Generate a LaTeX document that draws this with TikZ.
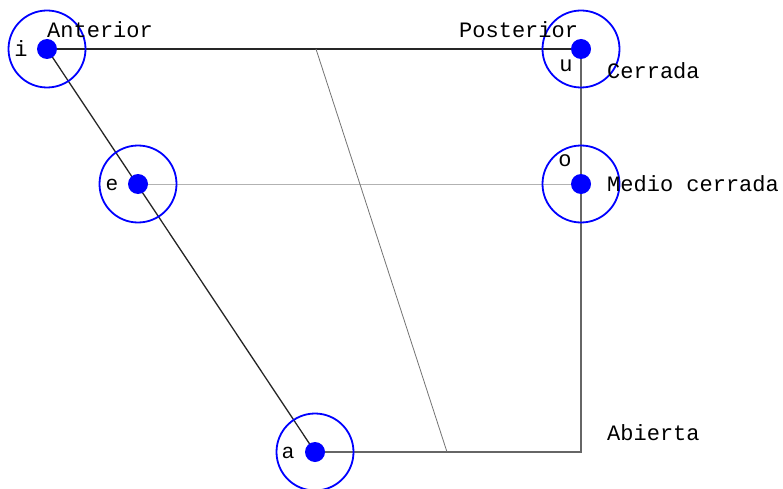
\documentclass[tikz,border=0pt]{standalone}
\usepackage{fontspec}
\setmonofont{Liberation Mono}
\setsansfont{Liberation Sans}
\begin{document}
\begin{tikzpicture}[x=1pt,y=-1pt,
  vowel/.style={circle,fill=blue,inner sep=0pt,minimum size=20pt},
  ring/.style={circle,draw=blue,line width=1.8pt,inner sep=0pt,minimum size=77pt},
  lab/.style={font=\fontsize{22}{24}\selectfont\ttfamily,inner sep=0pt},
  slab/.style={font=\fontsize{21}{23}\selectfont\sffamily,inner sep=0pt},
  edge/.style={line width=1.3pt},
]
\useasboundingbox (0,0) rectangle (783,489);
% vowel positions
\coordinate (pi) at (47,49);
\coordinate (pu) at (581,49);
\coordinate (pe) at (138,184);
\coordinate (po) at (581,184);
\coordinate (pa) at (315,452);
\coordinate (corner) at (581,452);
\coordinate (midtop) at (316,49);
\coordinate (midbot) at (447,452);
% trapezoid and mid lines
\draw[edge,black!85] (pi) -- (pu);
\draw[edge,black!85] (pi) -- (pa);
\draw[edge,black!60] (pu) -- (corner) -- (pa);
\draw[line width=1pt,black!30] (pe) -- (po);
\draw[line width=0.8pt,black!55] (midtop) -- (midbot);
% vowels
\foreach \v in {i,u,e,o,a}{
  \node[ring] (r\v) at (p\v) {};
  \node[vowel] (\v) at (p\v) {};
}
% vowel letters
\node[lab] (li) at (21,49) {i};
\node[lab] (lu) at (566,66) {u};
\node[slab] (le) at (112,185) {e};
\node[lab] (lo) at (565,161) {o};
\node[slab] (la) at (288,453) {a};
% axis labels
\node[lab,anchor=west] (ant) at (47,30) {Anterior};
\node[lab,anchor=west] (post) at (459,30) {Posterior};
\node[lab,anchor=west] (cerr) at (607,71) {Cerrada};
\node[lab,anchor=west] (medc) at (607,184) {Medio cerrada};
\node[lab,anchor=west] (abie) at (607,433) {Abierta};
\end{tikzpicture}
\end{document}
